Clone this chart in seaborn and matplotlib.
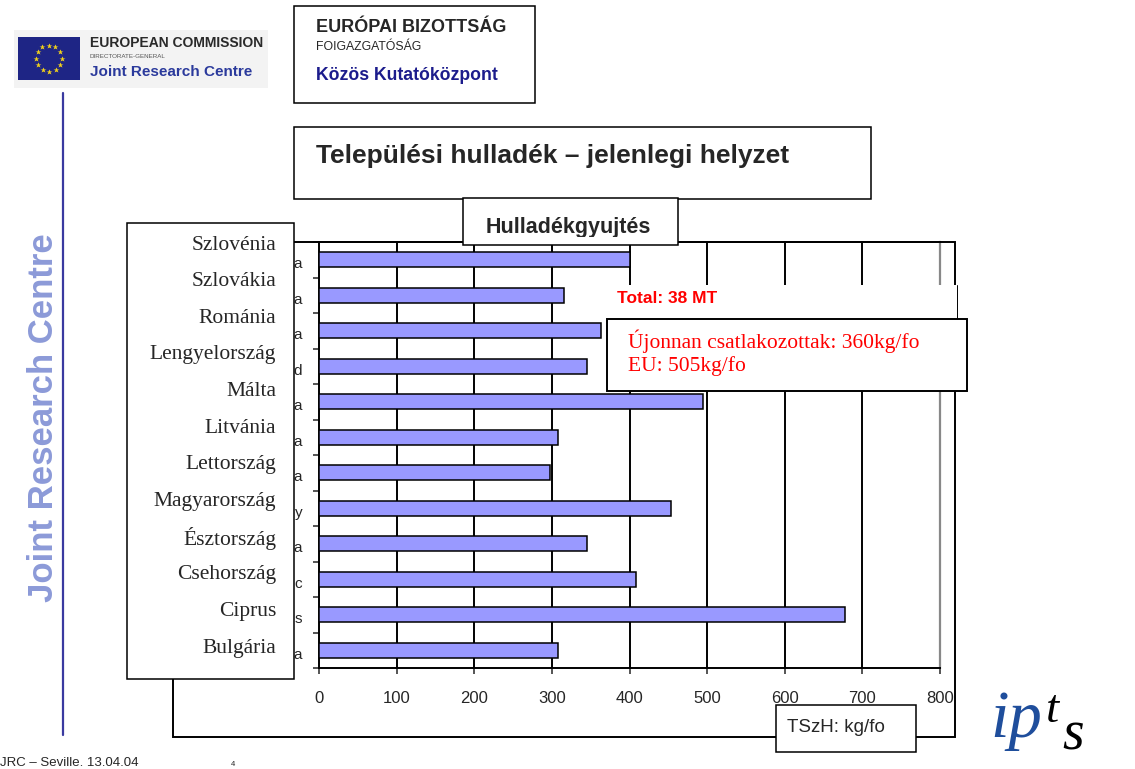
import numpy as np
import pandas as pd
import matplotlib
matplotlib.use("Agg")
import matplotlib.pyplot as plt
from matplotlib.patches import Rectangle
from matplotlib.lines import Line2D
from matplotlib import font_manager
import seaborn as sns

countries_hu = ['Szlovénia', 'Szlovákia', 'Románia', 'Lengyelország', 'Málta', 'Litvánia',
                'Lettország', 'Magyarország', 'Észtország', 'Csehország', 'Ciprus', 'Bulgária']
# what is left visible of the original English axis labels behind the name box
label_tails = ['a', 'a', 'a', 'd', 'a', 'a', 'a', 'y', 'a', 'c', 's', 'a']
waste_kg = [401, 315, 363, 345, 495, 308, 298, 453, 345, 409, 677, 308]
x_ticks = [0, 100, 200, 300, 400, 500, 600, 700, 800]

W, H = 1135, 769
SANS = 'Liberation Sans'
SERIF = 'Liberation Serif'
_names = {f.name for f in font_manager.fontManager.ttflist}
NARROW = 'Liberation Sans Narrow' if 'Liberation Sans Narrow' in _names else SANS

sns.set_style('white')
plt.rcParams['font.family'] = [SANS, 'DejaVu Sans']

fig = plt.figure(figsize=(W / 100, H / 100), dpi=100)
fig.patch.set_facecolor('white')


def fx(x):
    return x / W


def fy(y):
    return 1 - y / H


def box(x0, y0, x1, y1, z=1, **kw):
    kw.setdefault('facecolor', 'white')
    kw.setdefault('edgecolor', 'black')
    kw.setdefault('linewidth', 1.1)
    r = Rectangle((fx(x0), fy(y1)), (x1 - x0) / W, (y1 - y0) / H,
                  transform=fig.transFigure, zorder=z, **kw)
    fig.add_artist(r)
    return r


def text(x, y, s, **kw):
    kw.setdefault('va', 'center')
    kw.setdefault('zorder', 5)
    return fig.text(fx(x), fy(y), s, **kw)


# ---- bar chart ----
ax = fig.add_axes([fx(319), fy(668), (940 - 319) / W, (668 - 242) / H])
df = pd.DataFrame({'country': countries_hu, 'kg': waste_kg})
sns.barplot(data=df, x='kg', y='country', orient='h', color='#9999ff',
            saturation=1, width=0.42, edgecolor='black', linewidth=1.1, ax=ax, zorder=3)
ax.set_xlim(0, 800)
ax.set_ylim(len(countries_hu) - 0.5, -0.5)
ax.set_xlabel('')
ax.set_ylabel('')
ax.set_xticks(x_ticks)
ax.set_xticklabels([str(t) for t in x_ticks], fontsize=12, family=SANS)
ax.set_yticks(np.arange(-0.5, len(countries_hu), 1))
ax.set_yticklabels([])
ax.set_yticks(np.arange(len(countries_hu)) + 0.08, minor=True)
ax.set_yticklabels(label_tails, minor=True, fontsize=11, family=SANS)
ax.tick_params(axis='y', which='major', direction='out', length=4.5, width=1.1, left=True)
ax.tick_params(axis='y', which='minor', length=0, pad=12)
ax.tick_params(axis='x', direction='out', length=4.5, width=1.1, bottom=True, pad=12)
for t in x_ticks[1:-1]:
    ax.axvline(t, color='black', lw=1.4, zorder=1)
for side in ['left', 'bottom', 'top']:
    ax.spines[side].set_color('black')
    ax.spines[side].set_linewidth(1.4)
ax.spines['right'].set_color('#888888')
ax.spines['right'].set_linewidth(1.6)

# outer chart frame
box(173, 242, 955, 737, z=1, fill=False, linewidth=1.4)

# box with Hungarian country names, drawn over the original axis labels
box(127, 223, 294, 679, z=1.5)
clip = Rectangle((fx(127), fy(679)), (276 - 127) / W, (679 - 223) / H,
                 transform=fig.transFigure, visible=False)
fig.add_artist(clip)
for name, yy in zip(countries_hu, np.linspace(245, 648, len(countries_hu))):
    t = text(276, yy, name, ha='right', fontsize=15.5, family=SERIF)
    t.set_clip_path(clip)

# total + averages annotation
box(605, 285, 957, 319, z=1.6, linewidth=0)
fig.add_artist(Line2D([fx(957), fx(957)], [fy(285), fy(319)], transform=fig.transFigure,
                      color='black', lw=0.7, zorder=1.65))
text(617, 298, 'Total: 38 MT', color='red', fontsize=12.5, fontweight='bold', family=SANS)
box(607, 319, 967, 391, z=1.7, linewidth=1.4)
text(628, 341, 'Újonnan csatlakozottak: 360kg/fo', color='red', fontsize=15.5, family=SERIF)
text(628, 366, 'EU: 505kg/fo', color='red', fontsize=15.5, family=SERIF)

# x-axis unit box
box(776, 705, 916, 752, z=2, linewidth=1.1)
text(836, 727, 'TSzH: kg/fo', ha='center', fontsize=13.5, family=SANS)

# ---- header boxes ----
box(294, 6, 535, 103)
text(316, 28, 'EURÓPAI BIZOTTSÁG', fontsize=13, fontweight='bold', family=SANS)
text(316, 47, 'FOIGAZGATÓSÁG', fontsize=8.8, family=SANS)
text(316, 75, 'Közös Kutatóközpont', fontsize=12.7, fontweight='bold', color='#1c1c8c', family=SANS)

box(294, 127, 871, 199)
text(316, 156, 'Települési hulladék – jelenlegi helyzet', fontsize=19, fontweight='bold', family=SANS)

box(463, 198, 678, 245, z=2)
sub_clip = Rectangle((fx(463), fy(237)), (678 - 463) / W, (237 - 198) / H,
                     transform=fig.transFigure, visible=False)
fig.add_artist(sub_clip)
t = text(568, 228, 'Hulladékgyujtés', ha='center', fontsize=15.5, fontweight='bold', family=SANS)
t.set_clip_path(sub_clip)

# ---- JRC branding ----
box(14, 30, 268, 88, z=0.5, facecolor='#f3f3f3', linewidth=0)
box(18, 37, 80, 80, z=0.6, facecolor='#1e2585', linewidth=0)
ang = np.linspace(0, 2 * np.pi, 12, endpoint=False)
fig.add_artist(Line2D(fx(49 + 13 * np.cos(ang)), fy(58.5 + 13 * np.sin(ang)),
                      transform=fig.transFigure, ls='none', marker='*',
                      ms=4, color='#f2d21b', mec='none', zorder=0.7))
text(90, 43, 'EUROPEAN COMMISSION', fontsize=10, fontweight='bold', color='#2a2a2a', family=NARROW)
text(90, 57, 'DIRECTORATE-GENERAL', fontsize=4.5, color='#555555', family=SANS)
text(90, 72, 'Joint Research Centre', fontsize=11, fontweight='bold', color='#2b3a9c', family=NARROW)

fig.add_artist(Line2D([fx(63), fx(63)], [fy(93), fy(735)], transform=fig.transFigure,
                      color='#3a3aa0', lw=1.6))
text(44, 418, 'Joint Research Centre', rotation=90, ha='center', fontsize=25,
     fontweight='bold', color='#8c9ad8', family=NARROW)

text(0, 763, 'JRC – Seville. 13.04.04', fontsize=9.5, family=NARROW)
text(231, 765, '4', fontsize=5.5, family=SANS)

# ipts logo
text(990, 737, 'ip', va='baseline', fontsize=48, style='italic', color='#1f4e9c', family=SERIF)
text(1046, 722, 't', va='baseline', fontsize=34, style='italic', color='black', family=SERIF)
text(1062, 750, 's', va='baseline', fontsize=40, style='italic', color='black', family=SERIF)

fig.savefig('out.png', dpi=100)
